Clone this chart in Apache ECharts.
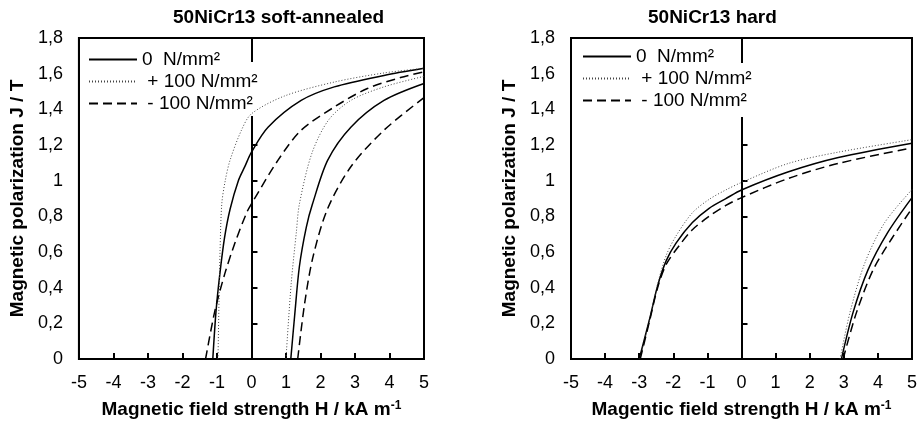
<!DOCTYPE html>
<html>
<head>
<meta charset="utf-8">
<script src="https://cdn.jsdelivr.net/npm/echarts@6/dist/echarts.min.js"></script>
<style>
  html, body { margin: 0; padding: 0; background: #fff; }
  .panel { position: absolute; top: 0; width: 460px; height: 424px; }
</style>
</head>
<body>
<div id="soft" class="panel" style="left:0"></div>
<div id="hard" class="panel" style="left:460px"></div>
<script>
// legend names
const names = ['0  N/mm²', ' + 100 N/mm²', ' - 100 N/mm²'];
const xTicks = [-5, 5, 1];
const yTicks = [0, 1.8, 0.2];

// 50NiCr13 soft-annealed, [H kA/m, J T]
const soft0Down = [[-1.12, 0], [-1.03, 0.26], [-0.92, 0.47], [-0.78, 0.68], [-0.62, 0.84], [-0.38, 1.0], [-0.19, 1.08], [0, 1.16], [0.48, 1.3], [1.44, 1.45], [2.4, 1.526], [3.84, 1.59], [5, 1.63]];
const softPlusDown = [[-0.97, 0], [-0.94, 0.33], [-0.91, 0.61], [-0.86, 0.87], [-0.76, 1.0], [-0.62, 1.115], [-0.29, 1.283], [0, 1.375], [0.96, 1.475], [2.4, 1.553], [3.84, 1.604], [5, 1.63]];
const softMinusDown = [[-1.33, 0], [-1.06, 0.27], [-0.77, 0.48], [-0.48, 0.65], [-0.14, 0.82], [0, 0.87], [0.77, 1.115], [1.44, 1.283], [2.4, 1.413], [3.36, 1.517], [4.32, 1.578], [5, 1.61]];
const soft0Up = [[1.14, 0], [1.25, 0.24], [1.39, 0.52], [1.59, 0.74], [1.77, 0.87], [2.21, 1.115], [2.88, 1.3], [3.84, 1.45], [5, 1.545]];
const softPlusUp = [[1.0, 0], [1.15, 0.42], [1.3, 0.71], [1.39, 0.87], [1.75, 1.153], [2.23, 1.339], [2.88, 1.45], [3.84, 1.526], [5, 1.585]];
const softMinusUp = [[1.34, 0], [1.54, 0.31], [1.78, 0.57], [2.2, 0.84], [2.88, 1.078], [3.84, 1.283], [5, 1.466]];

// 50NiCr13 hard
const hard0Down = [[-3.0, 0], [-2.7, 0.22], [-2.46, 0.41], [-2.21, 0.55], [-1.92, 0.65], [-1.44, 0.765], [-0.95, 0.845], [-0.47, 0.898], [0, 0.948], [1.38, 1.05], [2.84, 1.13], [5, 1.21]];
const hardPlusDown = [[-2.98, 0], [-2.7, 0.22], [-2.46, 0.42], [-2.21, 0.58], [-1.92, 0.69], [-1.44, 0.82], [-0.95, 0.895], [-0.47, 0.947], [0, 0.99], [1.38, 1.097], [2.84, 1.16], [5, 1.23]];
const hardMinusDown = [[-2.97, 0], [-2.7, 0.21], [-2.46, 0.4], [-2.21, 0.53], [-1.83, 0.635], [-1.44, 0.725], [-0.95, 0.8], [-0.47, 0.86], [0, 0.905], [1.38, 1.013], [2.84, 1.097], [5, 1.184]];
const hard0Up = [[2.93, 0], [3.27, 0.26], [3.71, 0.5], [4.29, 0.71], [5, 0.905]];
const hardPlusUp = [[2.89, 0], [3.18, 0.26], [3.62, 0.54], [4.2, 0.765], [5, 0.95]];
const hardMinusUp = [[2.98, 0], [3.37, 0.26], [3.86, 0.5], [4.39, 0.67], [5, 0.845]];

const FONT = 'Liberation Sans, Arial, sans-serif';
const styles = [
    { color: '#000', width: 1.5, type: 'solid' },
    { color: '#444', width: 1, type: [1, 2] },
    { color: '#000', width: 1.5, type: [9, 5] }
];

const curve = (idx, data) => ({
    type: 'line',
    name: names[idx],
    data: data,
    smooth: 0.3,
    symbol: 'none',
    lineStyle: styles[idx],
    itemStyle: { color: styles[idx].color }
});

const tickFmt = v => String(+v.toFixed(1)).replace('.', ',');

const buildOption = (cfg) => ({
    animation: false,
    title: {
        text: cfg.title,
        left: cfg.titleLeft,
        top: 8,
        padding: 0,
        textStyle: { fontFamily: FONT, fontSize: 19, fontWeight: 'bold', color: '#000' }
    },
    legend: {
        orient: 'vertical',
        left: cfg.legendLeft,
        top: cfg.legendTop,
        padding: 0,
        itemWidth: 48,
        itemHeight: 14,
        itemGap: 3,
        selectedMode: false,
        data: names,
        itemStyle: { opacity: 0 },
        textStyle: { fontFamily: FONT, fontSize: 19, color: '#000' }
    },
    graphic: [{
        type: 'rect',
        shape: cfg.gap,
        style: { fill: '#fff' },
        z: 3
    }],
    grid: {
        left: cfg.grid[0], right: cfg.grid[1], top: cfg.grid[2], bottom: cfg.grid[3],
        show: true, borderColor: '#000', borderWidth: 2
    },
    xAxis: {
        type: 'value',
        min: xTicks[0], max: xTicks[1], interval: xTicks[2],
        name: cfg.xName,
        nameLocation: 'middle',
        nameGap: 41,
        nameTextStyle: {
            fontFamily: FONT, fontSize: 19, fontWeight: 'bold', color: '#000',
            rich: { sup: { fontFamily: FONT, fontSize: 12, fontWeight: 'bold', color: '#000', verticalAlign: 'top' } }
        },
        axisLine: { onZero: false, lineStyle: { color: '#000', width: 2 } },
        axisTick: { inside: true, length: 6, lineStyle: { color: '#000', width: 2 } },
        axisLabel: { fontFamily: FONT, fontSize: 18, color: '#000', margin: 15 },
        splitLine: { show: false }
    },
    yAxis: [{
        type: 'value',
        min: yTicks[0], max: yTicks[1], interval: yTicks[2],
        name: 'Magnetic polarization J / T',
        nameLocation: 'middle',
        nameGap: cfg.yNameGap,
        nameTextStyle: { fontFamily: FONT, fontSize: 19, fontWeight: 'bold', color: '#000' },
        axisLine: { onZero: false, lineStyle: { color: '#000', width: 2 } },
        axisTick: { show: false },
        axisLabel: { fontFamily: FONT, fontSize: 18, color: '#000', margin: 16, formatter: tickFmt },
        splitLine: { show: false }
    }, {
        // the line at H = 0 with its ticks
        type: 'value',
        position: 'left',
        min: yTicks[0], max: yTicks[1], interval: yTicks[2],
        axisLine: { onZero: true, lineStyle: { color: '#000', width: 2 } },
        axisTick: { inside: true, length: 6, lineStyle: { color: '#000', width: 2 } },
        axisLabel: { show: false },
        splitLine: { show: false }
    }],
    series: cfg.curves
});

const softChart = echarts.init(document.getElementById('soft'));
softChart.setOption(buildOption({
    title: '50NiCr13 soft-annealed',
    titleLeft: 173,
    legendLeft: 88,
    legendTop: 50,
    gap: { x: 238, y: 62, width: 24, height: 54 },
    grid: [78, 36, 38, 65],
    yNameGap: 42,
    xName: 'Magnetic field strength H / kA m{sup|-1}',
    curves: [
        curve(0, soft0Down), curve(1, softPlusDown), curve(2, softMinusDown),
        curve(0, soft0Up), curve(1, softPlusUp), curve(2, softMinusUp)
    ]
}));

const hardChart = echarts.init(document.getElementById('hard'));
hardChart.setOption(buildOption({
    title: '50NiCr13 hard',
    titleLeft: 188,
    legendLeft: 122,
    legendTop: 47,
    gap: { x: 272, y: 63, width: 22, height: 54 },
    grid: [111, 6, 38, 64],
    yNameGap: 45,
    xName: 'Magentic field strength H / kA m{sup|-1}',
    curves: [
        curve(0, hard0Down), curve(1, hardPlusDown), curve(2, hardMinusDown),
        curve(0, hard0Up), curve(1, hardPlusUp), curve(2, hardMinusUp)
    ]
}));
</script>
</body>
</html>
